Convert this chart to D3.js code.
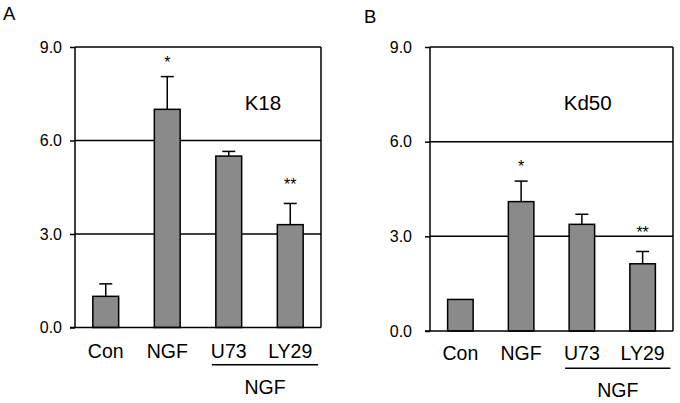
<!DOCTYPE html>
<html><head><meta charset="utf-8">
<script src="https://cdn.jsdelivr.net/npm/d3@7"></script>
<style>body{margin:0;background:#fff}svg{display:block}text{font-family:"Liberation Sans",Arial,Helvetica,sans-serif;fill:#000}</style>
</head><body>
<svg id="c" width="680" height="403"></svg>
<script>
const categories = ["Con", "NGF", "U73", "LY29"];
const yTicks = [0, 3, 6, 9];
const k18Values = [1.0, 7.0, 5.5, 3.3];
const k18Errors = [0.4, 1.05, 0.15, 0.68];
const k18Stars = ["", "*", "", "**"];
const kd50Values = [1.0, 4.1, 3.38, 2.13];
const kd50Errors = [0, 0.65, 0.32, 0.39];
const kd50Stars = ["", "*", "", "**"];
const groupLabel = "NGF";

const svg = d3.select("#c");

function panel(o) {
  const g = svg.append("g");
  const x = d3.scaleBand().domain(categories).range([o.left, o.right]).paddingInner(0.58).paddingOuter(0.29);
  const y = d3.scaleLinear().domain([0, 9]).range([o.bottom, o.top]);

  g.selectAll("line.grid").data(yTicks.filter(t => t > 0)).join("line")
    .attr("x1", o.left).attr("x2", o.right)
    .attr("y1", d => y(d)).attr("y2", d => y(d))
    .attr("stroke", "#000").attr("stroke-width", 1.5);
  g.append("line").attr("x1", o.right).attr("x2", o.right).attr("y1", y(9)).attr("y2", y(0))
    .attr("stroke", "#000").attr("stroke-width", 1.5);

  const ax = g.append("g").attr("transform", `translate(${o.left},0)`)
    .call(d3.axisLeft(y).tickValues(yTicks).tickFormat(d3.format(".1f")).tickSize(5).tickPadding(o.tickPad));
  ax.select(".domain").attr("stroke", "#000").attr("stroke-width", 1.5).attr("d", `M0,${y(9)}V${y(0)}`);
  ax.selectAll(".tick line").attr("stroke", "#000").attr("stroke-width", 1.5);
  ax.selectAll(".tick text").attr("font-size", 16).attr("font-family", '"Liberation Sans",Arial,sans-serif').attr("fill", "#000");

  const data = categories.map((c, i) => ({ c, v: o.values[i], e: o.errors[i], s: o.stars[i] }));

  const capHalf = 6.5;
  const eb = g.selectAll("g.eb").data(data.filter(d => d.e > 0)).join("g");
  eb.append("line").attr("x1", d => x(d.c) + x.bandwidth() / 2).attr("x2", d => x(d.c) + x.bandwidth() / 2)
    .attr("y1", d => y(d.v)).attr("y2", d => y(d.v + d.e)).attr("stroke", "#000").attr("stroke-width", 1.5);
  eb.append("line").attr("x1", d => x(d.c) + x.bandwidth() / 2 - capHalf).attr("x2", d => x(d.c) + x.bandwidth() / 2 + capHalf)
    .attr("y1", d => y(d.v + d.e)).attr("y2", d => y(d.v + d.e)).attr("stroke", "#000").attr("stroke-width", 1.5);

  g.selectAll("rect.bar").data(data).join("rect")
    .attr("x", d => x(d.c)).attr("width", x.bandwidth())
    .attr("y", d => y(d.v)).attr("height", d => y(0) - y(d.v))
    .attr("fill", "#8a8a8a").attr("stroke", "#000").attr("stroke-width", 1.5);

  g.append("line").attr("x1", o.left - 5).attr("x2", o.right).attr("y1", y(0)).attr("y2", y(0))
    .attr("stroke", "#000").attr("stroke-width", 1.5);

  g.selectAll("text.star").data(data.filter(d => d.s)).join("text")
    .attr("x", d => x(d.c) + x.bandwidth() / 2)
    .attr("y", d => y(d.v + d.e) - (d.s.length > 1 ? 13 : 9))
    .attr("text-anchor", "middle").attr("font-size", 16).text(d => d.s);

  g.selectAll("text.xl").data(data).join("text")
    .attr("x", d => x(d.c) + x.bandwidth() / 2).attr("y", o.xLabelY)
    .attr("text-anchor", "middle").attr("font-size", 19.5).text(d => d.c);

  const gx1 = x("U73") - 4, gx2 = x("LY29") + x.bandwidth() + 15;
  g.append("line").attr("x1", gx1).attr("x2", gx2).attr("y1", o.lineY).attr("y2", o.lineY)
    .attr("stroke", "#000").attr("stroke-width", 1.5);
  g.append("text").attr("x", (gx1 + gx2) / 2).attr("y", o.groupY).attr("text-anchor", "middle")
    .attr("font-size", 19.5).text(groupLabel);

  g.append("text").attr("x", o.left + (o.right - o.left) * o.titleFx).attr("y", y(7.23) + 7.5)
    .attr("text-anchor", "middle").attr("font-size", 20.5).text(o.title);

  svg.append("text").attr("x", o.letterX).attr("y", o.letterY).attr("font-size", 18.5).text(o.letter);
}

panel({ left: 75, right: 321, top: 47, bottom: 327.5, tickPad: 8, values: k18Values, errors: k18Errors, stars: k18Stars,
  xLabelY: 357.5, lineY: 364.7, groupY: 394, title: "K18", titleFx: 0.764, letter: "A", letterX: 3, letterY: 19.5 });
panel({ left: 430, right: 673, top: 47, bottom: 331, tickPad: 13, values: kd50Values, errors: kd50Errors, stars: kd50Stars,
  xLabelY: 360, lineY: 368.3, groupY: 396.7, title: "Kd50", titleFx: 0.649, letter: "B", letterX: 364, letterY: 22.5 });
</script>
</body></html>
